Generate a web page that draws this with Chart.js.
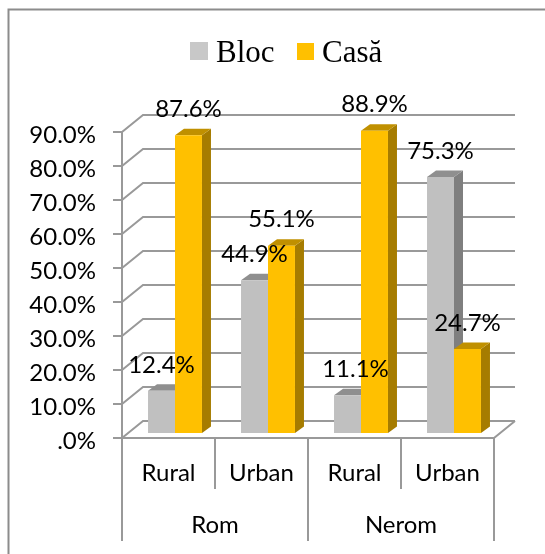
<!DOCTYPE html>
<html lang="en">
<head>
  <meta charset="UTF-8">
  <title>Bloc / Casă</title>
  <script src="https://cdn.jsdelivr.net/npm/chart.js"></script>
  <style>
    html, body { margin: 0; background: #fff; }
    canvas { display: block; }
  </style>
</head>
<body>
  <canvas id="housingChart" width="545" height="554"></canvas>

  <script>
    const groups = ['Rom', 'Nerom'];
    const areas = ['Rural', 'Urban', 'Rural', 'Urban'];
    const blocValues = [12.4, 44.9, 11.1, 75.3];
    const casaValues = [87.6, 55.1, 88.9, 24.7];

    const LINE = '#999999';
    const UI_FONT = 'Lato, "Liberation Sans", sans-serif';
    // The bars stand on a plane set back from the front edge of the floor.
    const FRONT_DX = -6.5, FRONT_DY = 5;
    const WALL_DX = 21, WALL_DY = -17;
    const BAR_DX = 9, BAR_DY = -6.5;

    const formatPct = v => (v === 0 ? '' : v.toFixed(1)) + (v === 0 ? '.0%' : '%');

    function strokePath(ctx, pts) {
      ctx.beginPath();
      pts.forEach((p, i) => i ? ctx.lineTo(p[0], p[1]) : ctx.moveTo(p[0], p[1]));
      ctx.stroke();
    }

    function fillPath(ctx, color, pts) {
      ctx.fillStyle = color;
      ctx.beginPath();
      pts.forEach((p, i) => i ? ctx.lineTo(p[0], p[1]) : ctx.moveTo(p[0], p[1]));
      ctx.closePath();
      ctx.fill();
    }

    // Back wall, floor, axis lines and the two level category separators.
    const wallPlugin = {
      id: 'wall',
      beforeDatasetsDraw(chart) {
        const { ctx, scales: { x, y } } = chart;
        const left = chart.chartArea.left + FRONT_DX;
        const right = chart.chartArea.right + FRONT_DX;
        const step = (right - left) / areas.length;
        const floorY = y.getPixelForValue(0) + FRONT_DY;

        ctx.save();
        ctx.strokeStyle = LINE;
        ctx.lineWidth = 2;
        y.ticks.forEach(t => {
          const py = y.getPixelForValue(t.value) + FRONT_DY;
          strokePath(ctx, [[left - 9, py], [left, py], [left + WALL_DX, py + WALL_DY], [right + WALL_DX, py + WALL_DY]]);
        });
        strokePath(ctx, [[left, y.getPixelForValue(y.max) + FRONT_DY], [left, floorY]]);
        strokePath(ctx, [[left, floorY], [right, floorY], [right + WALL_DX, floorY + WALL_DY]]);
        for (let i = 0; i <= areas.length; i++) {
          const px = left + i * step;
          strokePath(ctx, [[px, floorY], [px, i % 2 ? floorY + 51 : floorY + 103]]);
        }
        ctx.restore();

        // Side and top faces of the bars, the library draws the front face.
        chart.data.datasets.forEach((ds, di) => {
          chart.getDatasetMeta(di).data.forEach(bar => {
            const l = bar.x - bar.width / 2, r = bar.x + bar.width / 2;
            fillPath(ctx, ds.sideColor, [[r, bar.y], [r + BAR_DX, bar.y + BAR_DY], [r + BAR_DX, bar.base + BAR_DY], [r, bar.base]]);
            fillPath(ctx, ds.topColor, [[l, bar.y], [l + BAR_DX, bar.y + BAR_DY], [r + BAR_DX, bar.y + BAR_DY], [r, bar.y]]);
          });
        });
      }
    };

    const labelPlugin = {
      id: 'labels',
      afterDatasetsDraw(chart) {
        const { ctx } = chart;
        ctx.save();
        ctx.fillStyle = '#000';
        ctx.font = '24px ' + UI_FONT;
        ctx.textAlign = 'center';
        ctx.textBaseline = 'middle';
        chart.data.datasets.forEach((ds, di) => {
          chart.getDatasetMeta(di).data.forEach((bar, i) => {
            // 11.1% sits a little off centre in the original
            const nudge = ds.data[i] === 11.1 ? 8 : 0;
            ctx.fillText(formatPct(ds.data[i]), bar.x + nudge, bar.y - 26);
          });
        });
        ctx.restore();
      }
    };

    // Legend by hand, the built in one fixes the gap between box and text.
    const legendPlugin = {
      id: 'topLegend',
      afterDraw(chart) {
        const { ctx } = chart;
        const boxes = [[190, 42, 18, 18], [297, 43, 17, 17]];
        ctx.save();
        ctx.font = '31px "Liberation Serif", serif';
        ctx.textBaseline = 'alphabetic';
        chart.data.datasets.forEach((ds, i) => {
          const [bx, by, bw, bh] = boxes[i];
          ctx.fillStyle = ds.legendColor;
          ctx.fillRect(bx, by, bw, bh);
          ctx.fillStyle = '#000';
          ctx.fillText(ds.label, bx + bw + 8, 62);
        });
        // outer frame
        ctx.strokeStyle = '#8c8c8c';
        ctx.lineWidth = 2;
        strokePath(ctx, [[8.5, 554], [8.5, 9.5], [545, 9.5]]);
        ctx.restore();
      }
    };

    new Chart(document.getElementById('housingChart'), {
      type: 'bar',
      data: {
        labels: areas,
        datasets: [
          { label: 'Bloc', data: blocValues, backgroundColor: '#c0c0c0', legendColor: '#c8c8c8', sideColor: '#7f7f7f', topColor: '#8f8f8f' },
          { label: 'Casă', data: casaValues, backgroundColor: '#ffc000', legendColor: '#ffc000', sideColor: '#a67c00', topColor: '#c09000' }
        ]
      },
      plugins: [wallPlugin, labelPlugin, legendPlugin],
      options: {
        responsive: false,
        animation: false,
        layout: { padding: { top: 127, right: 44.5, bottom: 0, left: 0 } },
        categoryPercentage: 0.58,
        barPercentage: 1,
        plugins: { legend: { display: false }, tooltip: { enabled: false } },
        scales: {
          y: {
            min: 0,
            max: 90,
            afterFit(axis) { axis.width = 128.5; },
            grid: { display: false },
            border: { display: false },
            ticks: {
              stepSize: 10,
              padding: 24.5,
              labelOffset: 8,
              color: '#000',
              font: { family: UI_FONT, size: 24 },
              callback: v => formatPct(v)
            }
          },
          x: {
            afterFit(axis) { axis.height = 70; },
            grid: { display: false },
            border: { display: false },
            ticks: {
              padding: 18,
              labelOffset: FRONT_DX,
              maxRotation: 0,
              autoSkip: false,
              color: '#000',
              font: { family: UI_FONT, size: 24 }
            }
          },
          x2: {
            type: 'category',
            position: 'bottom',
            labels: groups,
            afterFit(axis) { axis.height = 51; },
            grid: { display: false },
            border: { display: false },
            ticks: {
              padding: 0,
              labelOffset: FRONT_DX,
              maxRotation: 0,
              color: '#000',
              font: { family: UI_FONT, size: 24 }
            }
          }
        }
      }
    });
  </script>
</body>
</html>
